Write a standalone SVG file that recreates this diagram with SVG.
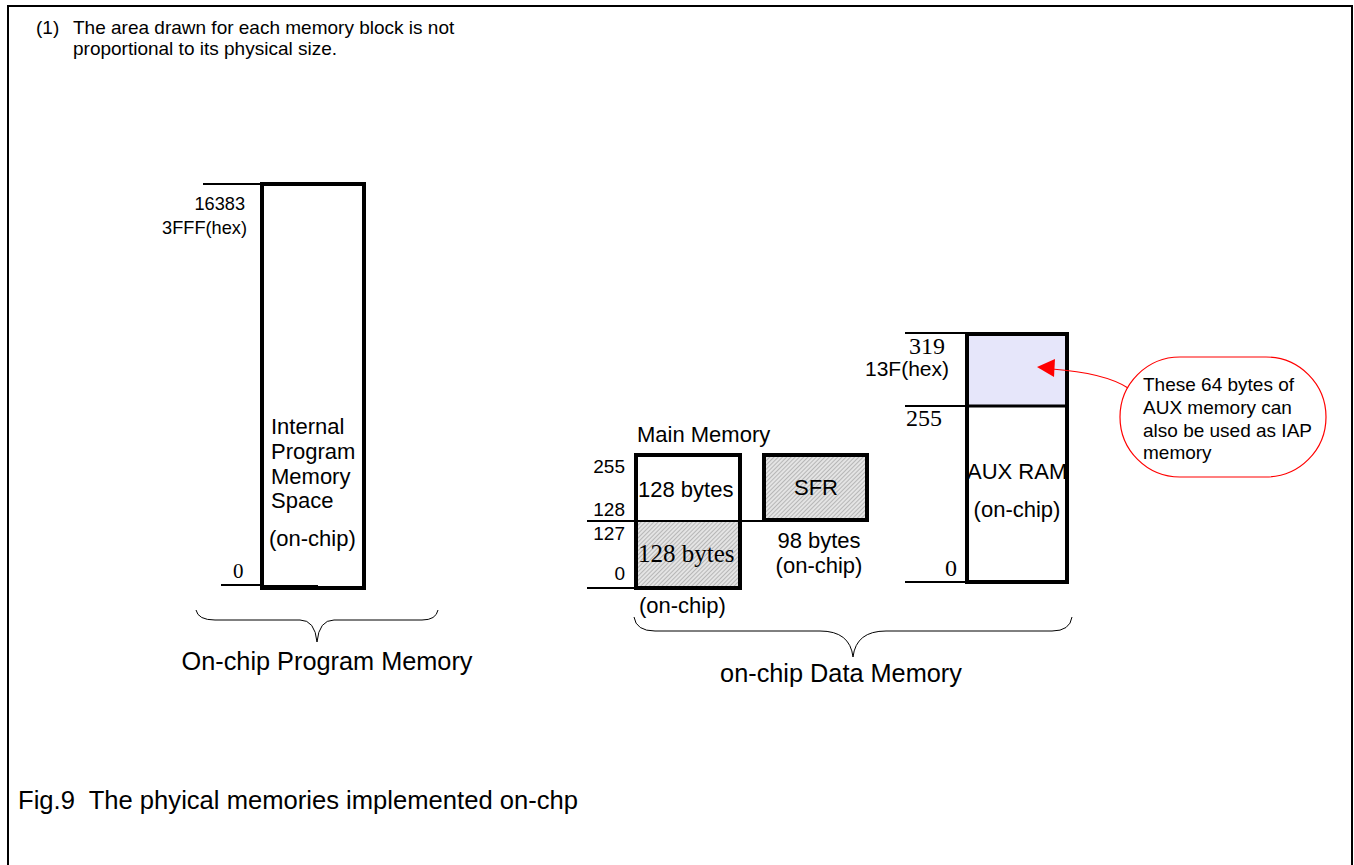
<svg xmlns="http://www.w3.org/2000/svg" width="1354" height="865" viewBox="0 0 1354 865">
<style>
.t{font-family:"Liberation Sans",Arial,sans-serif;fill:#000}
.s{font-family:"Liberation Serif","Times New Roman",serif;fill:#000}
.box{fill:none;stroke:#000;stroke-width:4}
.ln{stroke:#000;stroke-width:2;fill:none}
.br{stroke:#000;stroke-width:1;fill:none}
</style>
<defs>
<pattern id="hatch" width="3" height="3" patternUnits="userSpaceOnUse" patternTransform="rotate(45)">
<rect width="3" height="3" fill="#e4e4e4"/>
<line x1="0" y1="0" x2="0" y2="3" stroke="#8a8a8a" stroke-width="1"/>
</pattern>
</defs>
<rect x="0" y="0" width="1354" height="865" fill="#fff"/>
<rect x="8" y="6" width="1344" height="880" fill="none" stroke="#000" stroke-width="2"/>

<g id="note">
<text class="t" x="36" y="34" font-size="19">(1)</text>
<text class="t" x="73" y="34" font-size="19">The area drawn for each memory block is not</text>
<text class="t" x="73" y="55" font-size="19">proportional to its physical size.</text>
</g>

<g id="program-memory">
<line class="ln" x1="203" y1="184" x2="262" y2="184"/>
<line class="ln" x1="221" y1="585" x2="262" y2="585"/>
<line x1="262" y1="587" x2="318" y2="587" stroke="#000" stroke-width="4"/>
<rect class="box" x="262" y="184" width="102" height="404"/>
<text class="t" x="245" y="210" font-size="18.2" text-anchor="end">16383</text>
<text class="t" x="247" y="234" font-size="18.2" text-anchor="end">3FFF(hex)</text>
<text class="t" x="271" y="434" font-size="22">Internal</text>
<text class="t" x="271" y="459" font-size="22">Program</text>
<text class="t" x="271" y="484" font-size="22">Memory</text>
<text class="t" x="271" y="508" font-size="22">Space</text>
<text class="t" x="269" y="546" font-size="22">(on-chip)</text>
<text class="s" x="233" y="578" font-size="21">0</text>
</g>

<g id="main-memory">
<rect x="636" y="521" width="104" height="67" fill="url(#hatch)"/>
<line class="ln" x1="587" y1="521" x2="763" y2="521"/>
<line class="ln" x1="587" y1="588" x2="636" y2="588"/>
<rect class="box" x="636" y="455" width="104" height="133"/>
<text class="t" x="637" y="442" font-size="22">Main Memory</text>
<text class="t" x="625" y="473" font-size="19" text-anchor="end">255</text>
<text class="t" x="625" y="516" font-size="19" text-anchor="end">128</text>
<text class="t" x="625" y="540" font-size="19" text-anchor="end">127</text>
<text class="t" x="625" y="580" font-size="19" text-anchor="end">0</text>
<text class="t" x="638" y="497" font-size="22">128 bytes</text>
<text class="s" x="638" y="562" font-size="25">128 bytes</text>
<text class="t" x="639" y="613" font-size="22">(on-chip)</text>
</g>

<g id="sfr">
<rect x="764" y="455" width="103" height="65" fill="url(#hatch)" stroke="#000" stroke-width="4"/>
<text class="t" x="816" y="495" font-size="22" text-anchor="middle">SFR</text>
<text class="t" x="819" y="548" font-size="22" text-anchor="middle">98 bytes</text>
<text class="t" x="819" y="573" font-size="22" text-anchor="middle">(on-chip)</text>
</g>

<g id="aux-ram">
<rect x="967" y="334" width="100" height="72" fill="#e6e6fa"/>
<line class="ln" x1="905" y1="333" x2="967" y2="333"/>
<line class="ln" x1="905" y1="406" x2="1067" y2="406"/>
<line class="ln" x1="905" y1="582" x2="967" y2="582"/>
<line x1="967" y1="406" x2="1067" y2="406" stroke="#000" stroke-width="3"/>
<text class="s" x="945" y="354" font-size="24" text-anchor="end">319</text>
<text class="t" x="949" y="376" font-size="21" text-anchor="end">13F(hex)</text>
<text class="s" x="906" y="426" font-size="24">255</text>
<text class="t" x="967" y="479" font-size="22">AUX RAM</text>
<text class="t" x="1017" y="517" font-size="22" text-anchor="middle">(on-chip)</text>
<text class="s" x="945" y="576" font-size="24">0</text>
<rect class="box" x="967" y="334" width="100" height="248"/>
</g>

<g id="callout">
<rect x="1120" y="357" width="206" height="120" rx="60" ry="60" fill="#fff" stroke="#ff0000" stroke-width="1.2"/>
<text class="t" x="1143" y="391" font-size="19">These 64 bytes of</text>
<text class="t" x="1143" y="414" font-size="19">AUX memory can</text>
<text class="t" x="1143" y="437" font-size="19">also be used as IAP</text>
<text class="t" x="1143" y="459" font-size="19">memory</text>
</g>

<g id="braces">
<path class="br" d="M196,610 Q198,620 215,620 L300,620 Q315,620 317,642 Q319,620 334,620 L422,620 Q436,620 438,610"/>
<text class="t" x="327" y="670" font-size="25.3" text-anchor="middle">On-chip Program Memory</text>
<path class="br" d="M634,617 Q636,631 655,631 L820,631 Q850,631 853,657 Q856,631 886,631 L1052,631 Q1070,631 1072,617"/>
<text class="t" x="841" y="682" font-size="25.3" text-anchor="middle">on-chip Data Memory</text>
</g>

<g id="connectors">
<path d="M1128,388 Q1105,373 1052,369" fill="none" stroke="#ff0000" stroke-width="1.2"/>
<path d="M1037,367 L1055,359 L1054,377 z" fill="#ff0000"/>
</g>

<text class="t" x="18" y="809" font-size="25.6" xml:space="preserve">Fig.9  The phyical memories implemented on-chp</text>
</svg>
